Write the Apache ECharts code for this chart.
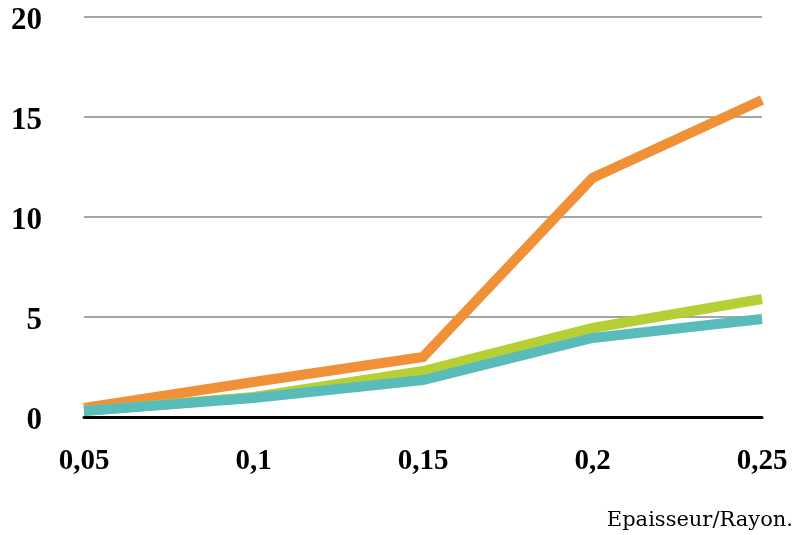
<!DOCTYPE html>
<html><head><meta charset="utf-8">
<script src="https://cdn.jsdelivr.net/npm/echarts@6/dist/echarts.min.js"></script>
<style>html,body{margin:0;padding:0;background:#fff}#c{width:808px;height:535px}</style>
</head><body><div id="c"></div>
<script>
const categories = ['0,05','0,1','0,15','0,2','0,25'];
const orangeValues = [0.45, 1.75, 3.0, 11.95, 15.85];
const greenValues = [0.3, 1.0, 2.3, 4.45, 5.9];
const tealValues = [0.3, 0.95, 1.85, 3.95, 4.9];
const yTicks = [0, 5, 10, 15, 20];
const axisTitle = 'Epaisseur/Rayon.';

const chart = echarts.init(document.getElementById('c'), null, {renderer:'canvas'});
const font = 'Liberation Serif';
function mk(name, data, color){
  return {name, type:'line', data, symbol:'none', smooth:false,
    lineStyle:{color, width:10, cap:'butt', join:'miter'}, itemStyle:{color}, z:3};
}
chart.setOption({
  animation:false,
  backgroundColor:'#fff',
  grid:{left:84, right:46, top:17, bottom:118, containLabel:false},
  xAxis:{type:'category', data:categories, boundaryGap:false,
    axisLine:{show:true, lineStyle:{color:'#000', width:3}},
    axisTick:{show:false},
    axisLabel:{color:'#000', fontFamily:font, fontWeight:'bold', fontSize:29, margin:30}},
  yAxis:{type:'value', min:yTicks[0], max:yTicks[yTicks.length-1], interval:5,
    axisLine:{show:false}, axisTick:{show:false},
    splitLine:{show:true, lineStyle:{color:'#a6a6a6', width:2}},
    axisLabel:{margin:42, formatter:v => '{a|' + v + '}',
      rich:{a:{color:'#000', fontFamily:font, fontWeight:'bold', fontSize:31, padding:[8,0,0,0]}}}},
  graphic:[{type:'text', right:15, top:510,
    style:{text:axisTitle, fill:'#000', font:'21px "DejaVu Serif"'}}],
  series:[mk('A', orangeValues, '#F09137'), mk('B', greenValues, '#B5CF34'), mk('C', tealValues, '#59BCBA')]
});
</script></body></html>
